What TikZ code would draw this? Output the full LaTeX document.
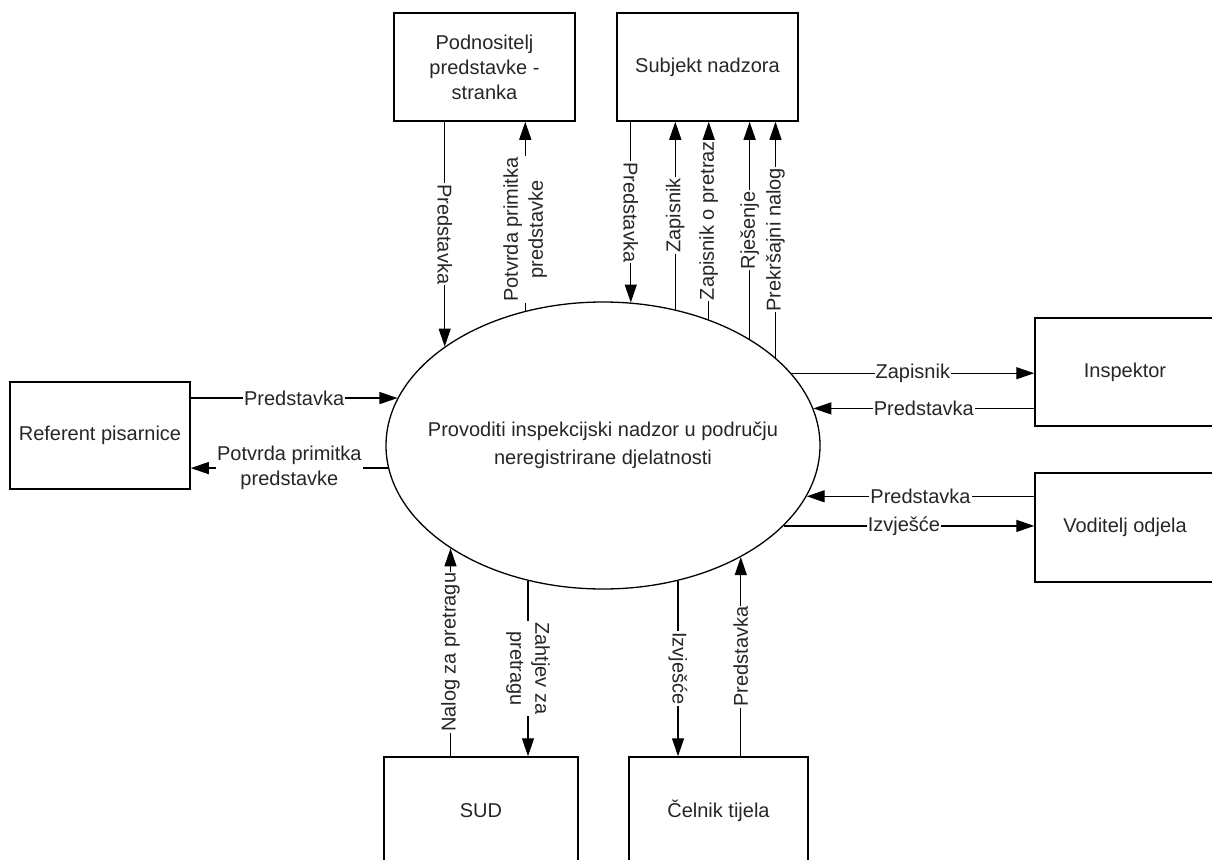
\documentclass[tikz,border=0pt]{standalone}
\usepackage{fontspec}
\setmainfont{Liberation Sans}
\usetikzlibrary{arrows.meta,shapes.geometric}
\begin{document}
\begin{tikzpicture}[x=1pt,y=-1pt,
  box/.style={draw, line width=1.5pt, align=center, inner sep=0pt, font=\fontsize{20}{25}\selectfont, text=black!85},
  ell/.style={draw, ellipse, line width=1.3pt, minimum width=434pt, minimum height=287pt, inner sep=0pt},
  arr/.style={line width=1.3pt, -{Triangle[length=18pt,width=12pt]}},
  lbl/.style={fill=white, inner sep=1pt, align=center, font=\fontsize{20}{25}\selectfont, text=black!85, midway},
]
\useasboundingbox (0,0) rectangle (1212,859);
\clip (0,0) rectangle (1212,859);

% central process
\node[ell] (E) at (603,445.5) {};
\node[font=\fontsize{20}{28}\selectfont, align=center, text=black!85] (Et) at (E.center) {Provoditi inspekcijski nadzor u području\\neregistrirane djelatnosti};

% external entities
\node[box, minimum width=181pt, minimum height=108pt] (pod) at (484.5,67) {Podnositelj\\predstavke -\\stranka};
\node[box, minimum width=181pt, minimum height=108pt] (sub) at (707.5,67) {Subjekt nadzora};
\node[box, minimum width=180pt, minimum height=107pt] (ref) at (100,435.5) {Referent pisarnice};
\node[box, minimum width=180pt, minimum height=108pt] (insp) at (1125,372) {Inspektor};
\node[box, minimum width=180pt, minimum height=109pt] (vod) at (1125,527.5) {Voditelj odjela};
\node[box, minimum width=194pt, minimum height=108pt] (sud) at (481,811) {SUD};
\node[box, minimum width=179pt, minimum height=108pt] (cel) at (718.5,811) {Čelnik tijela};

% top flows
\draw[arr] (pod.south -| E.148.1) -- node[lbl,rotate=-90]{Predstavka} (E.148.1);
\draw[arr] (E.120.2) -- node[lbl,rotate=90,pos=0.43]{Potvrda primitka\\predstavke} (E.120.2 |- pod.south);
\draw[arr] (sub.south -| E.79.3) -- node[lbl,rotate=-90]{Predstavka} (E.79.3);
\draw[arr] (E.62.7) -- node[lbl,rotate=90]{Zapisnik} (E.62.7 |- sub.south);
\draw[arr] (E.50.4) -- node[lbl,rotate=90]{Zapisnik o pretraz} (E.50.4 |- sub.south);
\draw[arr] (E.36.7) -- node[lbl,rotate=90]{Rješenje} (E.36.7 |- sub.south);
\draw[arr] (E.27) -- node[lbl,rotate=90]{Prekršajni nalog} (E.27 |- sub.south);

% right flows
\draw[arr] (E.21.5) -- node[lbl]{Zapisnik} (E.21.5 -| insp.west);
\draw[arr] (E.10.15 -| insp.west) -- node[lbl]{Predstavka} (E.10.15);
\draw[arr] (E.346.64 -| vod.west) -- node[lbl]{Predstavka} (E.346.64);
\draw[arr] (E.336.63) -- node[lbl,pos=0.48]{Izvješće} (E.336.63 -| vod.west);

% left flows
\draw[arr] (ref.east |- E.167.24) -- node[lbl]{Predstavka} (E.167.24);
\draw[arr] (E.186.26) -- node[lbl]{Potvrda primitka\\predstavke} (E.186.26 -| ref.east);

% bottom flows
\draw[arr] (sud.north -| E.214.3) -- node[lbl,rotate=90]{Nalog za pretragu} (E.214.3);
\draw[arr] (E.241.6) -- node[lbl,rotate=-90]{Zahtjev za\\pretragu} (E.241.6 |- sud.north);
\draw[arr] (E.299.1) -- node[lbl,rotate=-90]{Izvješće} (E.299.1 |- cel.north);
\draw[arr] (cel.north -| E.321.9) -- node[lbl,rotate=90]{Predstavka} (E.321.9);
\end{tikzpicture}
\end{document}
